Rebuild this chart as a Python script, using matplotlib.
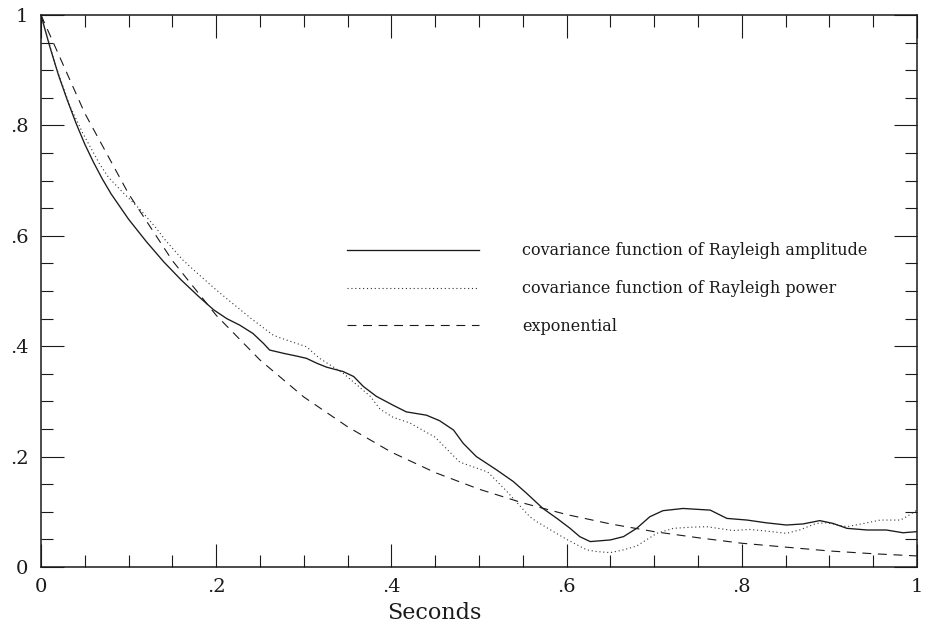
import matplotlib
matplotlib.use("Agg")
import matplotlib.pyplot as plt
from matplotlib.ticker import MultipleLocator

# covariance function of Rayleigh amplitude (solid)
t_amp = [0.0, 0.01, 0.02, 0.03, 0.04, 0.05, 0.06, 0.07, 0.08, 0.10, 0.12, 0.14,
         0.16, 0.18, 0.197, 0.212, 0.227, 0.242, 0.254, 0.261, 0.277, 0.292,
         0.303, 0.315, 0.326, 0.345, 0.357, 0.368, 0.383, 0.402, 0.417, 0.440,
         0.455, 0.471, 0.482, 0.497, 0.520, 0.539, 0.554, 0.573, 0.589, 0.604,
         0.615, 0.627, 0.650, 0.665, 0.680, 0.695, 0.710, 0.733, 0.764, 0.783,
         0.806, 0.828, 0.851, 0.870, 0.889, 0.904, 0.920, 0.943, 0.965, 0.984, 1.0]
r_amp = [1.0, 0.943, 0.891, 0.846, 0.804, 0.766, 0.733, 0.703, 0.676, 0.630,
         0.590, 0.553, 0.520, 0.490, 0.466, 0.450, 0.438, 0.423, 0.405, 0.393,
         0.387, 0.382, 0.378, 0.369, 0.362, 0.354, 0.345, 0.327, 0.309, 0.293,
         0.281, 0.275, 0.265, 0.248, 0.224, 0.200, 0.176, 0.155, 0.134, 0.106,
         0.088, 0.070, 0.055, 0.046, 0.049, 0.055, 0.070, 0.091, 0.102, 0.106,
         0.103, 0.088, 0.085, 0.080, 0.076, 0.078, 0.084, 0.079, 0.070, 0.067,
         0.067, 0.062, 0.064]

# covariance function of Rayleigh power (dotted)
t_pow = [0.0, 0.016, 0.033, 0.048, 0.067, 0.077, 0.095, 0.113, 0.132, 0.142,
         0.162, 0.18, 0.20, 0.216, 0.24, 0.265, 0.275, 0.303, 0.318, 0.330,
         0.345, 0.376, 0.387, 0.402, 0.421, 0.45, 0.478, 0.51, 0.53, 0.558,
         0.566, 0.60, 0.623, 0.634, 0.650, 0.665, 0.680, 0.703, 0.722, 0.741,
         0.760, 0.790, 0.809, 0.828, 0.851, 0.866, 0.885, 0.897, 0.920, 0.943,
         0.958, 0.981, 0.988, 1.0]
r_pow = [1.0, 0.912, 0.835, 0.785, 0.730, 0.706, 0.676, 0.648, 0.613, 0.592,
         0.556, 0.530, 0.502, 0.481, 0.450, 0.420, 0.414, 0.399, 0.378, 0.366,
         0.351, 0.309, 0.286, 0.271, 0.261, 0.235, 0.190, 0.172, 0.140, 0.091,
         0.082, 0.050, 0.031, 0.028, 0.026, 0.031, 0.038, 0.061, 0.070, 0.072,
         0.073, 0.066, 0.068, 0.065, 0.061, 0.067, 0.079, 0.080, 0.073, 0.080,
         0.085, 0.085, 0.091, 0.103]

# exponential (dashed)
t_exp = [0.0, 0.05, 0.1, 0.15, 0.2, 0.25, 0.3, 0.35, 0.4, 0.45, 0.5,
         0.55, 0.6, 0.65, 0.7, 0.75, 0.8, 0.85, 0.9, 0.95, 1.0]
r_exp = [1.0, 0.822, 0.676, 0.555, 0.456, 0.375, 0.308, 0.254, 0.208, 0.171,
         0.141, 0.116, 0.095, 0.078, 0.064, 0.053, 0.043, 0.036, 0.029, 0.024,
         0.020]

tick_vals = [0, 0.2, 0.4, 0.6, 0.8, 1.0]
tick_labels = ["0", ".2", ".4", ".6", ".8", "1"]

fig = plt.figure(figsize=(9.27, 6.29), dpi=100)
ax = fig.add_axes([0.0442, 0.0986, 0.945, 0.8776])

ink = "#1a1a1a"
ax.plot(t_amp, r_amp, color=ink, lw=0.95,
        label="covariance function of Rayleigh amplitude")
ax.plot(t_pow, r_pow, color="#333333", lw=0.8, linestyle=(0, (1, 2.5)),
        label="covariance function of Rayleigh power")
ax.plot(t_exp, r_exp, color=ink, lw=0.8, linestyle=(0, (8, 6)),
        label="exponential")

ax.set_xlim(0, 1)
ax.set_ylim(0, 1)

ax.set_xticks(tick_vals)
ax.set_xticklabels(tick_labels)
ax.set_yticks(tick_vals)
ax.set_yticklabels(tick_labels)
ax.xaxis.set_minor_locator(MultipleLocator(0.05))
ax.yaxis.set_minor_locator(MultipleLocator(0.05))

ax.tick_params(which="both", direction="in", top=True, right=True,
               width=0.8, color=ink)
ax.tick_params(which="major", length=16.5)
ax.tick_params(which="minor", length=8.5)
ax.tick_params(axis="x", which="major", pad=8)
ax.tick_params(axis="y", which="major", pad=9)
for lab in ax.get_xticklabels() + ax.get_yticklabels():
    lab.set_family("DejaVu Serif")
    lab.set_fontsize(14)
    lab.set_color(ink)

for sp in ax.spines.values():
    sp.set_linewidth(1.1)
    sp.set_color(ink)

ax.set_xlabel("Seconds", family="DejaVu Serif", fontsize=16, color=ink)
ax.xaxis.set_label_coords(0.449, -0.064)

leg = ax.legend(loc="upper left", bbox_to_anchor=(0.349, 0.588),
                frameon=False, borderpad=0, borderaxespad=0,
                handlelength=8.3, handletextpad=2.7, labelspacing=1.3,
                prop={"family": "DejaVu Serif", "size": 11.5})
for txt in leg.get_texts():
    txt.set_color(ink)

fig.savefig("out.png", dpi=100, facecolor="white")
